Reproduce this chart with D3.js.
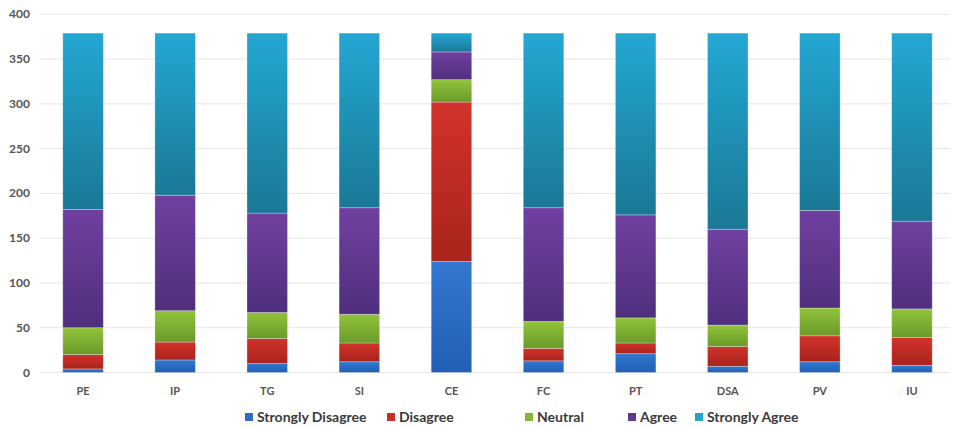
<!DOCTYPE html>
<html>
<head>
<meta charset="utf-8">
<script src="https://cdn.jsdelivr.net/npm/d3@7"></script>
<style>
  body { margin: 0; background: #fff; }
  svg text { font-family: Lato, "Open Sans", sans-serif; }
</style>
</head>
<body>
<svg id="chart" width="953" height="428"></svg>
<script>
// survey responses per construct
const categories = ['PE', 'IP', 'TG', 'SI', 'CE', 'FC', 'PT', 'DSA', 'PV', 'IU'];
const seriesNames = ['Strongly Disagree', 'Disagree', 'Neutral', 'Agree', 'Strongly Agree'];

const stronglyDisagree = [4, 14, 10, 12, 124, 13, 21, 7, 12, 8];
const disagree = [16, 20, 28, 21, 178, 14, 12, 22, 29, 31];
const neutral = [30, 35, 29, 32, 25, 30, 28, 24, 31, 32];
const agree = [132, 129, 111, 119, 31, 127, 115, 107, 109, 98];
const stronglyAgree = [197, 181, 201, 195, 21, 195, 203, 219, 198, 210];

const yTicks = [0, 50, 100, 150, 200, 250, 300, 350, 400];

// top / bottom colours of the gradient for each series
const colors = [
  ['#3377d1', '#2160b4'],
  ['#d2322c', '#a8241c'],
  ['#92c33a', '#6a9a2a'],
  ['#7040a0', '#4f2f7d'],
  ['#23a8d3', '#1a7896']
];
const legendColors = ['#2e6bc4', '#c7302a', '#86b638', '#5f3a8f', '#25a3c8'];

let svg = d3.select('#chart');

let rows = categories.map((c, i) => ({
  cat: c,
  'Strongly Disagree': stronglyDisagree[i],
  'Disagree': disagree[i],
  'Neutral': neutral[i],
  'Agree': agree[i],
  'Strongly Agree': stronglyAgree[i]
}));

let stacked = d3.stack().keys(seriesNames)(rows);

let xScale = d3.scaleBand()
  .domain(categories)
  .range([37, 958])
  .paddingInner(0.56)
  .paddingOuter(0.28);

let yScale = d3.scaleLinear()
  .domain([0, 400])
  .range([372.5, 14.3]);

// gradients
let defs = svg.append('defs');
colors.forEach((c, i) => {
  let g = defs.append('linearGradient')
    .attr('id', 'grad' + i)
    .attr('x1', 0).attr('y1', 0).attr('x2', 0).attr('y2', 1);
  g.append('stop').attr('offset', '0%').attr('stop-color', c[0]);
  g.append('stop').attr('offset', '100%').attr('stop-color', c[1]);
});

// gridlines
svg.append('g')
  .selectAll('line')
  .data(yTicks)
  .enter()
  .append('line')
  .attr('x1', 40)
  .attr('x2', 950)
  .attr('y1', (d) => yScale(d))
  .attr('y2', (d) => yScale(d))
  .attr('stroke', '#e6e6e6')
  .attr('stroke-width', 1);

// bars
svg.append('g')
  .selectAll('g')
  .data(stacked)
  .enter()
  .append('g')
  .attr('fill', (d, i) => `url(#grad${i})`)
  .selectAll('rect')
  .data((d) => d)
  .enter()
  .append('rect')
  .attr('x', (d) => xScale(d.data.cat))
  .attr('y', (d) => yScale(d[1]))
  .attr('width', xScale.bandwidth())
  .attr('height', (d) => yScale(d[0]) - yScale(d[1]))
  .attr('stroke', 'rgba(255,255,255,0.35)')
  .attr('stroke-width', 0.8);

// y axis labels
svg.append('g')
  .selectAll('text')
  .data(yTicks)
  .enter()
  .append('text')
  .attr('x', 30)
  .attr('y', (d) => yScale(d) + 4)
  .attr('text-anchor', 'end')
  .attr('font-size', '12px')
  .attr('font-weight', 'bold')
  .attr('fill', '#555')
  .text((d) => d);

// x axis labels
svg.append('g')
  .selectAll('text')
  .data(categories)
  .enter()
  .append('text')
  .attr('x', (d) => xScale(d) + xScale.bandwidth() / 2)
  .attr('y', 395)
  .attr('text-anchor', 'middle')
  .attr('font-size', '11px')
  .attr('font-weight', 'bold')
  .attr('fill', '#555')
  .text((d) => d);

// legend
let legendX = [245, 387, 525, 628, 695];
let legend = svg.append('g')
  .selectAll('g')
  .data(seriesNames)
  .enter()
  .append('g')
  .attr('transform', (d, i) => `translate(${legendX[i]}, 417)`);

legend.append('rect')
  .attr('x', 0)
  .attr('y', -4)
  .attr('width', 8)
  .attr('height', 8)
  .attr('fill', (d, i) => legendColors[i]);

legend.append('text')
  .attr('x', 12)
  .attr('y', 5)
  .attr('font-size', '14px')
  .attr('font-weight', 'bold')
  .attr('fill', '#3a3a3a')
  .text((d) => d);
</script>
</body>
</html>
